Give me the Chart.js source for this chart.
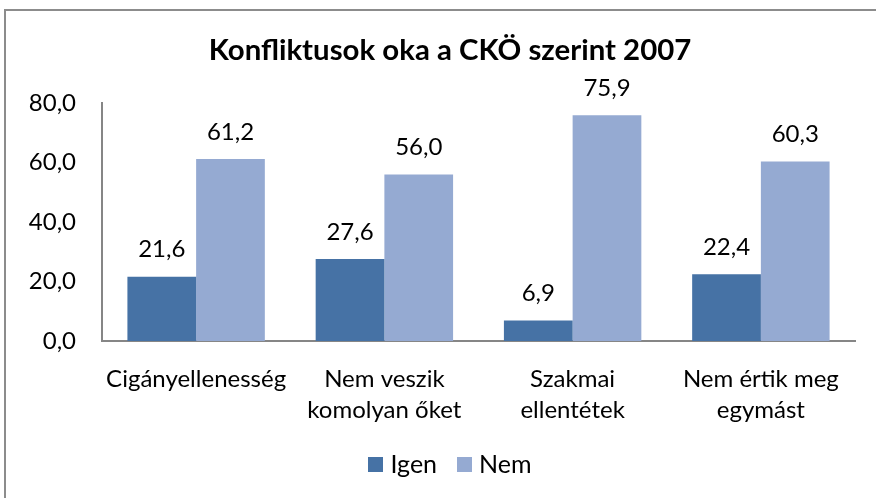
<!DOCTYPE html>
<html>
<head>
<meta charset="utf-8">
<script src="https://cdn.jsdelivr.net/npm/chart.js@4.4.1/dist/chart.umd.min.js"></script>
<style>
  html, body { margin: 0; padding: 0; background: #fff; overflow: hidden; }
  #wrap { position: relative; width: 876px; height: 498px; }
  #frame { position: absolute; left: 4px; top: 9px; width: 900px; height: 520px; border: 2px solid #8c8c8c; box-sizing: border-box; }
  canvas { position: absolute; left: 0; top: 0; }
</style>
</head>
<body>
<div id="wrap">
  <div id="frame"></div>
  <canvas id="c" width="876" height="498"></canvas>
</div>
<script>
const titleText = "Konfliktusok oka a CKÖ szerint 2007";
const categories = [
  "Cigányellenesség",
  ["Nem veszik", "komolyan őket"],
  ["Szakmai", "ellentétek"],
  ["Nem értik meg", "egymást"]
];
const seriesNames = ["Igen", "Nem"];
const igenValues = [21.6, 27.6, 6.9, 22.4];
const nemValues = [61.2, 56.0, 75.9, 60.3];
const yTicks = [0, 20, 40, 60, 80];

const FONT = "Lato, 'Open Sans', sans-serif";
const fmt = v => v.toFixed(1).replace('.', ',');

const dataLabels = {
  id: 'dataLabels',
  afterDatasetsDraw(chart) {
    const ctx = chart.ctx;
    ctx.save();
    ctx.font = "24px " + FONT;
    ctx.fillStyle = "#000";
    ctx.textAlign = "center";
    ctx.textBaseline = "middle";
    chart.data.datasets.forEach((ds, i) => {
      const meta = chart.getDatasetMeta(i);
      meta.data.forEach((el, j) => {
        ctx.fillText(fmt(ds.data[j]), el.x, el.y - 27);
      });
    });
    ctx.restore();
  }
};

const chartTitle = {
  id: 'chartTitle',
  afterDraw(chart) {
    const ctx = chart.ctx;
    ctx.save();
    ctx.font = "bold 29.4px " + FONT;
    ctx.fillStyle = "#000";
    ctx.textAlign = "center";
    ctx.textBaseline = "middle";
    ctx.fillText(titleText, 450, 51);
    ctx.restore();
  }
};

const bottomLegend = {
  id: 'bottomLegend',
  afterDraw(chart) {
    const ctx = chart.ctx;
    ctx.save();
    ctx.font = "25px " + FONT;
    ctx.textBaseline = "middle";
    ctx.textAlign = "left";
    const box = 15, gapText = 7, gapItem = 20, cy = 464.5, cx = 450;
    const items = chart.data.datasets.map(ds => ({
      label: ds.label, color: ds.backgroundColor, w: ctx.measureText(ds.label).width
    }));
    let total = 0;
    items.forEach((it, i) => { total += box + gapText + it.w + (i < items.length - 1 ? gapItem : 0); });
    let x = cx - total / 2;
    items.forEach(it => {
      ctx.fillStyle = it.color;
      ctx.fillRect(Math.round(x), Math.round(cy - box / 2), box, box);
      ctx.fillStyle = "#000";
      ctx.fillText(it.label, x + box + gapText, cy);
      x += box + gapText + it.w + gapItem;
    });
    ctx.restore();
  }
};

new Chart(document.getElementById('c'), {
  type: 'bar',
  data: {
    labels: categories,
    datasets: [
      { label: seriesNames[0], data: igenValues, backgroundColor: '#4672A5', borderWidth: 0 },
      { label: seriesNames[1], data: nemValues, backgroundColor: '#95AAD2', borderWidth: 0 }
    ]
  },
  options: {
    responsive: false,
    animation: false,
    devicePixelRatio: 1,
    layout: { padding: { left: 0, right: 21, top: 103, bottom: 54 } },
    datasets: { bar: { categoryPercentage: 0.73, barPercentage: 1.0 } },
    plugins: {
      title: { display: false },
      legend: { display: false },
      tooltip: { enabled: false }
    },
    scales: {
      x: {
        grid: { display: false, drawTicks: false },
        border: { display: true, color: '#868686', width: 2 },
        ticks: { color: '#000', font: { family: FONT, size: 24, lineHeight: 1.32 }, padding: 22, maxRotation: 0, autoSkip: false },
        afterFit(s) { s.height = 103; }
      },
      y: {
        min: 0, max: 80,
        grid: { display: false, drawTicks: false },
        border: { display: true, color: '#868686', width: 2 },
        afterBuildTicks(s) { s.ticks = yTicks.map(v => ({ value: v })); },
        ticks: { color: '#000', font: { family: FONT, size: 24 }, padding: 26, callback: v => fmt(v) },
        afterFit(s) { s.width = 102; }
      }
    }
  },
  plugins: [dataLabels, chartTitle, bottomLegend]
});
</script>
</body>
</html>
